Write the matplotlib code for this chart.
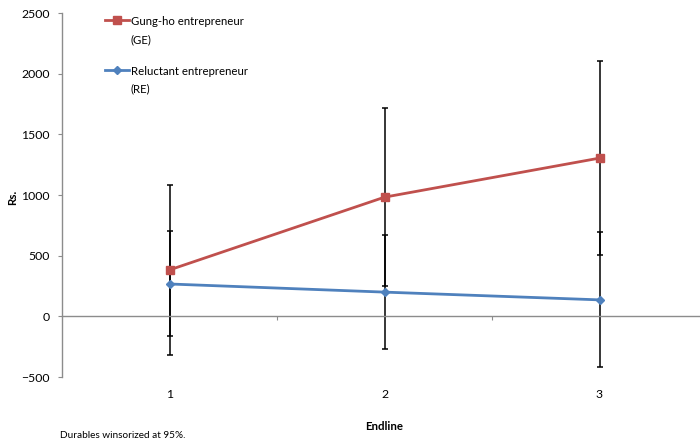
import matplotlib
matplotlib.use("Agg")
import matplotlib.pyplot as plt
import numpy as np

rounds = ["1", "2", "3"]
ge_mean = [383, 983, 1305]
ge_err = [698, 736, 803]
re_mean = [267, 200, 136]
re_err = [433, 473, 556]
labels = ["Gung-ho entrepreneur\n(GE)", "Reluctant entrepreneur\n(RE)"]

RED = "#C0504D"
BLUE = "#4F81BD"
GRAY = "#8C8C8C"
plt.rcParams['font.family'] = ['Lato', 'DejaVu Sans']

fig = plt.figure(figsize=(7, 4.47), dpi=100)
ax = fig.add_axes([62/700, 1-377/447, 645/700, (377-13.2)/447])
x = np.arange(1, len(rounds)+1)

ax.errorbar(x, ge_mean, yerr=ge_err, fmt='none', ecolor='black', elinewidth=1.1, capsize=2, capthick=1.1, zorder=2)
ax.errorbar(x, re_mean, yerr=re_err, fmt='none', ecolor='black', elinewidth=1.1, capsize=2, capthick=1.1, zorder=2)
ax.plot(x, ge_mean, color=RED, lw=2, marker='s', ms=6, label=labels[0], zorder=3)
ax.plot(x, re_mean, color=BLUE, lw=2, marker='D', ms=4.5, label=labels[1], zorder=3)

ax.set_xlim(0.5, 3.5)
ax.set_ylim(-500, 2500)
ax.set_yticks(np.arange(-500, 2501, 500))
ax.tick_params(axis='y', direction='out', length=3, color=GRAY, labelsize=8.8, pad=6, width=0.8)

for s in ['top', 'right']:
    ax.spines[s].set_visible(False)
ax.spines['left'].set_color(GRAY)
ax.spines['left'].set_linewidth(1)
ax.spines['bottom'].set_position(('data', 0))
ax.spines['bottom'].set_color(GRAY)
ax.spines['bottom'].set_linewidth(1)
ax.set_xticks([1.5, 2.5])
ax.set_xticklabels([])
ax.tick_params(axis='x', direction='out', length=3, color=GRAY, width=0.8)

sec = ax.secondary_xaxis(location=0)
sec.set_xticks(x)
sec.set_xticklabels(rounds)
sec.tick_params(length=0, labelsize=8.8, pad=9)
sec.spines['bottom'].set_visible(False)
sec.set_xlabel("Endline", fontsize=8.3, fontweight='bold', labelpad=15)

ax.set_ylabel("Rs.", fontsize=8.3, fontweight='bold')
ax.yaxis.set_label_coords(-0.068, 0.495)

leg = ax.legend(loc='upper left', bbox_to_anchor=(0.05, 1.02), frameon=False, fontsize=8.2,
                handlelength=2.15, handletextpad=0.15, labelspacing=1.85)
for t in leg.get_texts():
    t.set_linespacing(1.75)
try:
    for col in leg._legend_handle_box.get_children():
        for hp in col.get_children():
            hp.align = "top"
except Exception:
    pass

fig.text(60/700, 1-436/447, "Durables winsorized at 95%.", fontsize=7.2, va='center', ha='left')

fig.savefig("out.png", dpi=100)
